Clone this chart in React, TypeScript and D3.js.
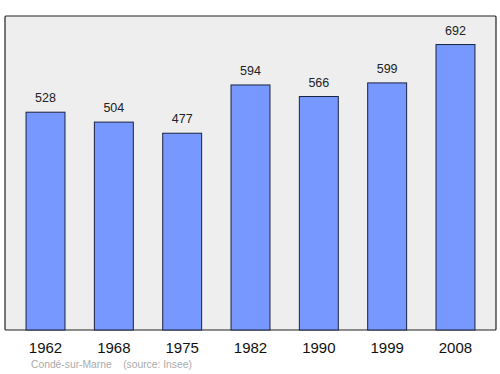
import React from "react";
import * as d3 from "d3";

const years = ["1962", "1968", "1975", "1982", "1990", "1999", "2008"];
const population = [528, 504, 477, 594, 566, 599, 692];
const caption = "Condé-sur-Marne    (source: Insee)";

export default function App() {
  const W = 500, H = 374;
  const left = 5, right = 496, top = 16, bottom = 330;
  const x = d3.scaleBand<string>().domain(years).range([left, right]).paddingInner(0.43).paddingOuter(0.308);
  const y = d3.scaleLinear().domain([0, (d3.max(population) as number) * 1.1]).range([bottom, top]);
  return (
    <svg width={W} height={H} style={{ position: "absolute", left: 0, top: 0, fontFamily: "'Liberation Sans', Arial, sans-serif" }}>
      <rect x={left} y={top} width={right - left} height={bottom - top} fill="#eeeeee" stroke="#222" strokeWidth={1.2} rx={1} />
      {years.map((yr, i) => {
        const v = population[i];
        const bx = x(yr) as number;
        return (
          <g key={yr}>
            <rect x={bx} y={y(v)} width={x.bandwidth()} height={bottom - y(v)} fill="#7799ff" stroke="#1a2240" strokeWidth={1} />
            <text x={bx + x.bandwidth() / 2} y={y(v) - 10} textAnchor="middle" fontSize={12.5} fill="#222">{v}</text>
            <text x={bx + x.bandwidth() / 2} y={353} textAnchor="middle" fontSize={15} fill="#111">{yr}</text>
          </g>
        );
      })}
      <text x={31} y={368} fontSize={10.3} fill="#aaaaaa" style={{ whiteSpace: "pre" }}>{caption}</text>
    </svg>
  );
}
